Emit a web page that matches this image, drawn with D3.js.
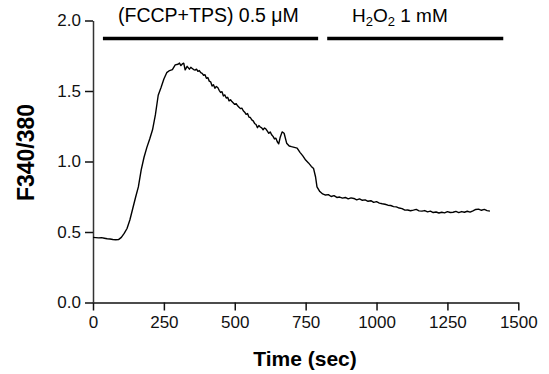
<!DOCTYPE html>
<html>
<head>
<meta charset="utf-8">
<script src="https://cdn.jsdelivr.net/npm/d3@7"></script>
<style>
  body { margin: 0; background: #fff; }
  svg { display: block; font-family: Arial, "Liberation Sans", sans-serif; }
</style>
</head>
<body>
<div id="chart"></div>
<script>
// trace (sec, F340/380)
const timeSec = [0, 10, 20, 30, 40, 50, 60, 70, 80, 90, 100, 110, 120, 130, 140, 150, 160, 170, 180, 190,
  200, 210, 220, 230, 240, 250, 260, 270, 280, 290, 300, 305, 310, 315, 320, 325, 332, 340, 345, 350, 355, 360, 365, 370, 375, 380,
  385, 390, 395, 400, 405, 410, 415, 420, 425, 430, 435, 440, 445, 450, 455, 460, 465, 470, 475, 480, 485, 490, 495, 500,
  505, 510, 515, 520, 525, 530, 535, 540, 545, 550, 555, 560, 565, 570, 575, 580, 585, 590, 595, 600,
  605, 610, 615, 620, 625, 630, 635, 640, 645, 650, 655, 660, 667, 674, 683, 692, 700, 710, 720, 730, 740, 750, 760,
  770, 778, 785, 790, 800, 810, 820, 830, 840, 850, 860, 870, 880, 890, 900, 910, 920, 930, 940, 950,
  960, 970, 980, 990, 1000, 1010, 1020, 1030, 1040, 1050, 1060, 1070, 1080, 1090, 1100, 1110, 1120, 1130, 1140, 1150,
  1160, 1170, 1180, 1190, 1200, 1210, 1220, 1230, 1240, 1250, 1260, 1270, 1280, 1290, 1300, 1310, 1320, 1330, 1340, 1350,
  1360, 1370, 1380, 1390, 1400];
const ratio = [0.462, 0.460, 0.458, 0.460, 0.456, 0.452, 0.450, 0.447, 0.445, 0.446, 0.462, 0.490, 0.525, 0.585, 0.665, 0.745, 0.820, 0.940, 1.030, 1.100,
  1.160, 1.225, 1.330, 1.470, 1.525, 1.585, 1.630, 1.645, 1.652, 1.685, 1.690, 1.698, 1.680, 1.692, 1.697, 1.650, 1.675, 1.655, 1.668, 1.660, 1.652, 1.648, 1.655, 1.640, 1.645, 1.630,
  1.625, 1.612, 1.615, 1.590, 1.595, 1.570, 1.565, 1.535, 1.545, 1.520, 1.532, 1.525, 1.505, 1.490, 1.495, 1.465, 1.472, 1.450, 1.455, 1.430, 1.438, 1.425, 1.415, 1.405,
  1.410, 1.395, 1.385, 1.375, 1.378, 1.360, 1.350, 1.335, 1.340, 1.315, 1.312, 1.295, 1.288, 1.270, 1.262, 1.240, 1.255, 1.245, 1.238, 1.225,
  1.238, 1.230, 1.215, 1.200, 1.210, 1.190, 1.178, 1.160, 1.165, 1.140, 1.125, 1.170, 1.210, 1.200, 1.130, 1.110, 1.105, 1.100, 1.095, 1.065, 1.040, 1.010, 0.990,
  0.965, 0.950, 0.890, 0.820, 0.787, 0.770, 0.762, 0.765, 0.752, 0.758, 0.745, 0.748, 0.740, 0.745, 0.735, 0.742, 0.738, 0.728, 0.735, 0.725,
  0.728, 0.718, 0.722, 0.710, 0.715, 0.705, 0.700, 0.697, 0.690, 0.688, 0.680, 0.678, 0.670, 0.666, 0.655, 0.656, 0.651, 0.655, 0.660, 0.650,
  0.648, 0.652, 0.643, 0.648, 0.638, 0.642, 0.635, 0.640, 0.636, 0.644, 0.638, 0.640, 0.646, 0.638, 0.645, 0.640, 0.647, 0.641, 0.650, 0.660,
  0.662, 0.654, 0.660, 0.652, 0.648];

const xTicks = [0, 250, 500, 750, 1000, 1250, 1500];
const yTicks = [0.0, 0.5, 1.0, 1.5, 2.0];

// treatment bars: label, start, end (sec)
const barLabels = ["(FCCP+TPS) 0.5 \u03BCM", "H2O2 1 mM"];
const barStart = [35, 826];
const barEnd = [794, 1447];
const barLevel = 1.872;

const width = 549, height = 374;
const margin = { top: 20.5, right: 30.7, bottom: 71.5, left: 93 };

const svg = d3.select("#chart").append("svg")
  .attr("width", width).attr("height", height);

const x = d3.scaleLinear().domain([0, 1500]).range([margin.left, width - margin.right]);
const y = d3.scaleLinear().domain([0, 2]).range([height - margin.bottom, margin.top]);

// x axis
const gx = svg.append("g")
  .attr("transform", "translate(0," + y(0) + ")")
  .call(d3.axisBottom(x).tickValues(xTicks).tickFormat(d3.format("d")).tickSize(8).tickPadding(5).tickSizeOuter(0));
gx.select(".domain").attr("stroke", "#111").attr("stroke-width", 1.5);
gx.selectAll(".tick line").attr("stroke", "#111").attr("stroke-width", 1.5);
gx.selectAll("text").style("font-size", "17px").attr("fill", "#111");

// y axis
const gy = svg.append("g")
  .attr("transform", "translate(" + x(0) + ",0)")
  .call(d3.axisLeft(y).tickValues(yTicks).tickFormat(d3.format(".1f")).tickSize(8).tickPadding(4).tickSizeOuter(0));
gy.select(".domain").attr("stroke", "#333").attr("stroke-width", 1.5);
gy.selectAll(".tick line").attr("stroke", "#111").attr("stroke-width", 1.5);
gy.selectAll("text").style("font-size", "17px").attr("fill", "#111");

// trace
const pts = timeSec.map((t, i) => [t, ratio[i]]);
svg.append("path")
  .datum(pts)
  .attr("fill", "none")
  .attr("stroke", "#000")
  .attr("stroke-width", 1.4)
  .attr("stroke-linejoin", "round")
  .attr("d", d3.line().x(d => x(d[0])).y(d => y(d[1])));

// treatment bars
svg.selectAll(".bar")
  .data(barStart)
  .enter().append("line")
  .attr("x1", d => x(d))
  .attr("x2", (d, i) => x(barEnd[i]))
  .attr("y1", y(barLevel)).attr("y2", y(barLevel))
  .attr("stroke", "#000").attr("stroke-width", 3.5);

svg.append("text")
  .attr("x", 118).attr("y", 22)
  .style("font-size", "19.5px")
  .text(barLabels[0]);

const h2o2 = svg.append("text")
  .attr("x", 352).attr("y", 22)
  .style("font-size", "19px");
h2o2.append("tspan").text("H");
h2o2.append("tspan").attr("dy", 4).style("font-size", "13px").text("2");
h2o2.append("tspan").attr("dy", -4).text("O");
h2o2.append("tspan").attr("dy", 4).style("font-size", "13px").text("2");
h2o2.append("tspan").attr("dy", -4).text(" 1 mM");

// axis titles
svg.append("text")
  .attr("x", 305).attr("y", 366)
  .attr("text-anchor", "middle")
  .style("font-size", "21px").style("font-weight", "bold")
  .text("Time (sec)");

svg.append("text")
  .attr("transform", "translate(34,152.5) rotate(-90)")
  .attr("text-anchor", "middle")
  .style("font-size", "23px").style("font-weight", "bold")
  .text("F340/380");
</script>
</body>
</html>
